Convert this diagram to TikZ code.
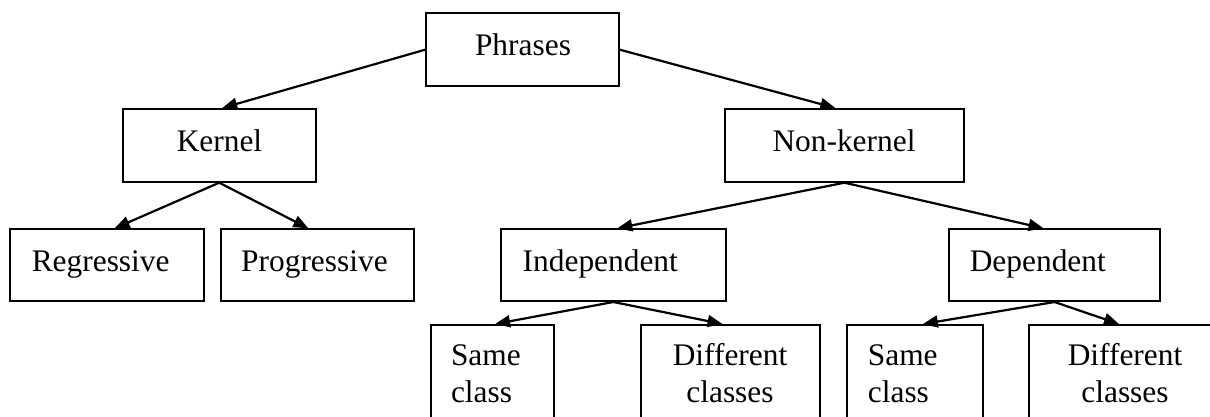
\documentclass[tikz,border=0pt]{standalone}
\usepackage{fontspec}
\setmainfont{Liberation Serif}
\usetikzlibrary{arrows.meta,calc}

\tikzset{
  box/.style={draw, line width=2pt, rectangle, inner sep=0pt},
  lbl/.style={inner sep=0pt, font=\fontsize{31.4}{36.3}\selectfont},
  link/.style={line width=2.2pt, -{Triangle[length=15pt,width=12pt]}},
}

\begin{document}
\begin{tikzpicture}[x=1pt, y=-1pt]
  \useasboundingbox (0,0) rectangle (1210,416);
  \clip (0,0) rectangle (1210,416);

  % boxes
  \node[box, minimum width=192.4pt, minimum height=72.7pt] (phrases)     at (522.5,49.65) {};
  \node[box, minimum width=192.5pt, minimum height=72.7pt] (kernel)      at (219.25,145.35) {};
  \node[box, minimum width=238.7pt, minimum height=72.7pt] (nonkernel)   at (844.35,145.35) {};
  \node[box, minimum width=193.3pt, minimum height=71.7pt] (regressive)  at (106.95,265.15) {};
  \node[box, minimum width=193.4pt, minimum height=71.7pt] (progressive) at (317.3,265.15) {};
  \node[box, minimum width=224.7pt, minimum height=71.7pt] (independent) at (613.35,265.15) {};
  \node[box, minimum width=211pt,   minimum height=71.7pt] (dependent)   at (1054.5,265.15) {};
  \node[box, minimum width=123pt,   minimum height=115pt]  (sameA)       at (492.1,382.5) {};
  \node[box, minimum width=179pt,   minimum height=115pt]  (diffA)       at (730.5,382.5) {};
  \node[box, minimum width=136.6pt, minimum height=115pt]  (sameB)       at (914.9,382.5) {};
  \node[box, minimum width=196pt,   minimum height=115pt]  (diffB)       at (1127,382.5) {};

  % labels (two-line labels are anchored on the baseline of their last line)
  \node[lbl, anchor=base] (tphrases) at (523,55) {Phrases};
  \node[lbl, anchor=base] (tkernel) at (219.5,151) {Kernel};
  \node[lbl, anchor=base] (tnonkernel) at (844,151) {Non-kernel};
  \node[lbl, anchor=base west] (tregressive) at (31.6,271.5) {Regressive};
  \node[lbl, anchor=base west] (tprogressive) at (241,271.5) {Progressive};
  \node[lbl, anchor=base west] (tindependent) at (522.5,271.5) {Independent};
  \node[lbl, anchor=base west] (tdependent) at (969.6,271.5) {Dependent};
  \node[lbl, anchor=base west, align=left] (tsameA) at (450.8,402) {Same\\class};
  \node[lbl, anchor=base, align=center] (tdiffA) at (730,402) {Different\\classes};
  \node[lbl, anchor=base west, align=left] (tsameB) at (867.7,402) {Same\\class};
  \node[lbl, anchor=base, align=center] (tdiffB) at (1125,402) {Different\\classes};

  % connectors
  \draw[link] (phrases.west) -- ($(kernel.north)+(3,0)$);
  \draw[link] (phrases.east) -- ($(nonkernel.north)+(-9,0)$);
  \draw[link] (kernel.south) -- ($(regressive.north)+(7.7,0)$);
  \draw[link] (kernel.south) -- ($(progressive.north)+(-9,0)$);
  \draw[link] (nonkernel.south) -- ($(independent.north)+(4,0)$);
  \draw[link] (nonkernel.south) -- ($(dependent.north)+(-11,0)$);
  \draw[link] (independent.south) -- ($(sameA.north)+(3,0)$);
  \draw[link] (independent.south) -- ($(diffA.north)+(-8,0)$);
  \draw[link] (dependent.south) -- ($(sameB.north)+(8,0)$);
  \draw[link] (dependent.south) -- ($(diffB.north)+(-8,0)$);
\end{tikzpicture}
\end{document}
